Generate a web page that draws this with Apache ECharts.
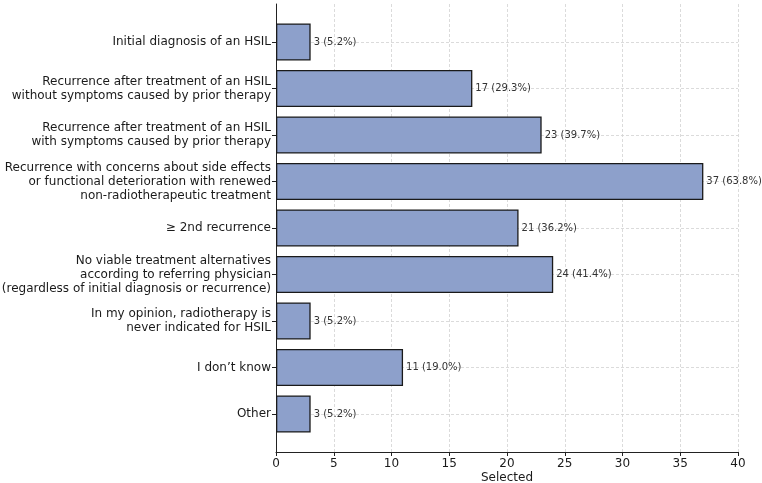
<!DOCTYPE html>
<html>
<head>
<meta charset="utf-8">
<script src="https://cdn.jsdelivr.net/npm/echarts@6/dist/echarts.min.js"></script>
<style>html,body{margin:0;padding:0;background:#fff}#c{width:762px;height:483px}</style>
</head>
<body>
<div id="c"></div>
<script>
const categories = [
  "Initial diagnosis of an HSIL",
  "Recurrence after treatment of an HSIL\nwithout symptoms caused by prior therapy",
  "Recurrence after treatment of an HSIL\nwith symptoms caused by prior therapy",
  "Recurrence with concerns about side effects\nor functional deterioration with renewed\nnon-radiotherapeutic treatment",
  "\u2265 2nd recurrence",
  "No viable treatment alternatives\naccording to referring physician\n(regardless of initial diagnosis or recurrence)",
  "In my opinion, radiotherapy is\nnever indicated for HSIL",
  "I don\u2019t know",
  "Other"
];
const counts = [3, 17, 23, 37, 21, 24, 3, 11, 3];
const percents = ["5.2", "29.3", "39.7", "63.8", "36.2", "41.4", "5.2", "19.0", "5.2"];
const xTicks = { min: 0, max: 40, interval: 5 };

const font = "DejaVu Sans";
const chart = echarts.init(document.getElementById('c'), null, { renderer: 'canvas' });
const dashed = { show: true, lineStyle: { color: '#d2d2d2', type: [3, 2], width: 0.8 } };

chart.setOption({
  animation: false,
  backgroundColor: '#fff',
  grid: [
    { left: 276, right: 24, top: 42, bottom: 69, containLabel: false, outerBoundsMode: 'none' },
    { left: 276, right: 24, top: 4, bottom: 31, containLabel: false, outerBoundsMode: 'none' }
  ],
  xAxis: [
    { gridIndex: 0, type: 'value', min: xTicks.min, max: xTicks.max, interval: xTicks.interval, show: false },
    {
      gridIndex: 1, type: 'value', min: xTicks.min, max: xTicks.max, interval: xTicks.interval,
      name: 'Selected', nameLocation: 'middle', nameGap: 20, nameMoveOverlap: false,
      nameTextStyle: { fontFamily: font, fontSize: 12, color: '#1a1a1a' },
      axisLine: { show: true, lineStyle: { color: '#222', width: 1 } },
      axisTick: { show: true, length: 4, lineStyle: { color: '#222' } },
      axisLabel: { fontFamily: font, fontSize: 12, color: '#1a1a1a', margin: 6 },
      splitLine: dashed
    }
  ],
  yAxis: [
    {
      gridIndex: 0, type: 'category', data: categories, inverse: true, boundaryGap: false,
      axisLine: { show: false },
      axisTick: { show: true, length: 4, lineStyle: { color: '#222' } },
      axisLabel: { fontFamily: font, fontSize: 12, color: '#1a1a1a', margin: 5, lineHeight: 14, align: 'right' },
      splitLine: dashed
    },
    {
      gridIndex: 1, type: 'value', min: 0, max: 1,
      axisLine: { show: true, lineStyle: { color: '#222', width: 1 } },
      axisTick: { show: false }, axisLabel: { show: false }, splitLine: { show: false }
    }
  ],
  series: [{
    type: 'bar',
    xAxisIndex: 0, yAxisIndex: 0,
    data: counts,
    barWidth: '80%',
    itemStyle: { color: '#8DA0CB', borderColor: '#1a1a1a', borderWidth: 1.3 },
    label: {
      show: true, position: 'right', distance: 3,
      fontFamily: font, fontSize: 10, color: '#333',
      formatter: p => counts[p.dataIndex] + ' (' + percents[p.dataIndex] + '%)'
    }
  }]
});
</script>
</body>
</html>
